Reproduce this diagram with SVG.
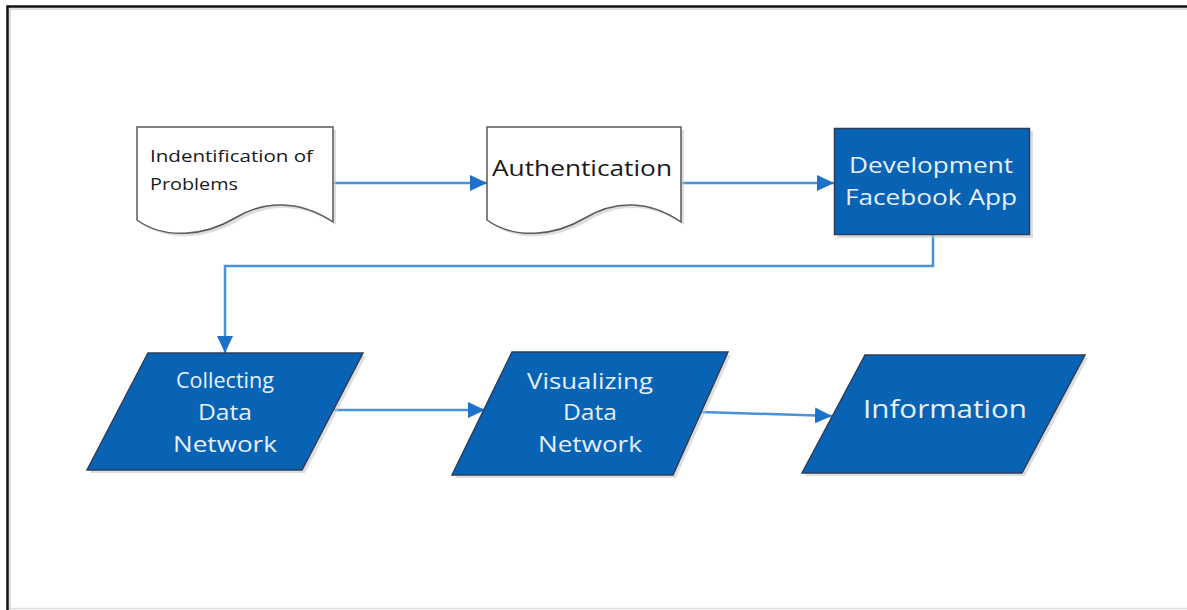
<svg xmlns="http://www.w3.org/2000/svg" width="1187" height="610" viewBox="0 0 1187 610">
  <defs>
    <style>
      .doc { fill: #ffffff; stroke: #5a5a5a; stroke-width: 1.5; }
      .blue { fill: #0863B5; stroke: #2b3f5c; stroke-width: 1.5; }
      .shadow { fill: #c8c8c8; opacity: 0.6; }
      .conn { fill: none; stroke: #4A93D6; stroke-width: 2.5; }
      .dark { font-family: "Open Sans", Lato, "Liberation Sans", sans-serif; fill: #1a1a1a; }
      .light { font-family: "Open Sans", Lato, "Liberation Sans", sans-serif; fill: #E6F0FA; text-anchor: middle; }
    </style>
    <marker id="arrow" markerUnits="userSpaceOnUse" markerWidth="18" markerHeight="16" refX="17" refY="8" orient="auto">
      <path d="M0,0 L17,8 L0,16 Z" fill="#1C72C8"/>
    </marker>
  </defs>
  <rect x="0" y="0" width="1187" height="610" fill="#ffffff"/>
  <!-- frame -->
  <path d="M7.5,610 V6.5 H1187" fill="none" stroke="#111111" stroke-width="2.5"/>
  <path d="M10,610 V9 H1187" fill="none" stroke="#bbbbbb" stroke-width="1"/>
  <line x1="10" y1="608.5" x2="1187" y2="608.5" stroke="#dddddd" stroke-width="1.5"/>

  <g id="connectors">
    <line class="conn" x1="333" y1="183" x2="487" y2="183" marker-end="url(#arrow)"/>
    <line class="conn" x1="681" y1="183" x2="834" y2="183" marker-end="url(#arrow)"/>
    <polyline class="conn" points="933,235 933,266 225,266 225,353" marker-end="url(#arrow)"/>
    <line class="conn" x1="333" y1="410" x2="485" y2="410" marker-end="url(#arrow)"/>
    <line class="conn" x1="701" y1="412" x2="832" y2="416" marker-end="url(#arrow)"/>
  </g>

  <g id="node-identification">
    <path class="shadow" d="M140,130 H336 V225 C303,203 268,203 238,221 C208,239 168,243 140,223 Z"/>
    <path class="doc" d="M137,127 H333 V222 C300,200 265,200 235,218 C205,236 165,240 137,220 Z"/>
    <text class="dark" x="150" y="162" font-size="17" textLength="163" lengthAdjust="spacingAndGlyphs">Indentification of</text>
    <text class="dark" x="150" y="190" font-size="17" textLength="88" lengthAdjust="spacingAndGlyphs">Problems</text>
  </g>

  <g id="node-authentication">
    <path class="shadow" d="M490,130 H684 V225 C652,203 618,203 588,221 C558,239 518,243 490,223 Z"/>
    <path class="doc" d="M487,127 H681 V222 C649,200 615,200 585,218 C555,236 515,240 487,220 Z"/>
    <text class="dark" x="492" y="176" font-size="22" textLength="180" lengthAdjust="spacingAndGlyphs">Authentication</text>
  </g>

  <g id="node-development">
    <rect class="shadow" x="837" y="131" width="196" height="107"/>
    <rect class="blue" x="834.5" y="128.5" width="195" height="106"/>
    <text class="light" x="931" y="173" font-size="22" textLength="164" lengthAdjust="spacingAndGlyphs">Development</text>
    <text class="light" x="931" y="205" font-size="22" textLength="172" lengthAdjust="spacingAndGlyphs">Facebook App</text>
  </g>

  <g id="node-collecting">
    <polygon class="shadow" points="151,356 366,356 305,473 90,473"/>
    <polygon class="blue" points="148,353 363,353 302,470 87,470"/>
    <text class="light" x="225" y="388" font-size="22" textLength="98" lengthAdjust="spacingAndGlyphs">Collecting</text>
    <text class="light" x="225" y="420" font-size="22" textLength="54" lengthAdjust="spacingAndGlyphs">Data</text>
    <text class="light" x="225" y="452" font-size="22" textLength="104" lengthAdjust="spacingAndGlyphs">Network</text>
  </g>

  <g id="node-visualizing">
    <polygon class="shadow" points="515,355 731,355 676,478 455,478"/>
    <polygon class="blue" points="512,352 728,352 673,475 452,475"/>
    <text class="light" x="590" y="389" font-size="22" textLength="126" lengthAdjust="spacingAndGlyphs">Visualizing</text>
    <text class="light" x="590" y="420" font-size="22" textLength="54" lengthAdjust="spacingAndGlyphs">Data</text>
    <text class="light" x="590" y="452" font-size="22" textLength="104" lengthAdjust="spacingAndGlyphs">Network</text>
  </g>

  <g id="node-information">
    <polygon class="shadow" points="868,358 1088,358 1025,476 805,476"/>
    <polygon class="blue" points="865,355 1085,355 1022,473 802,473"/>
    <text class="light" x="945" y="418" font-size="26" textLength="164" lengthAdjust="spacingAndGlyphs">Information</text>
  </g>
</svg>
